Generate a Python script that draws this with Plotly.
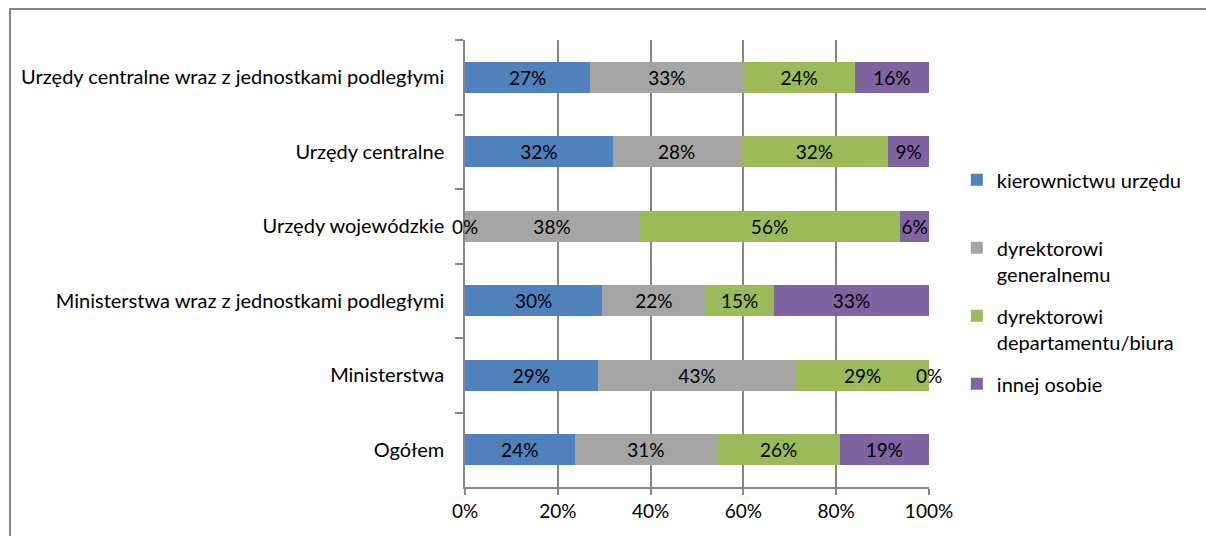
import plotly.graph_objects as go

categories = [
    "Urzędy centralne wraz z jednostkami podległymi",
    "Urzędy centralne",
    "Urzędy wojewódzkie",
    "Ministerstwa wraz z jednostkami podległymi",
    "Ministerstwa",
    "Ogółem",
]
series_names = [
    "kierownictwu urzędu<br>&nbsp;",
    "dyrektorowi<br>generalnemu",
    "dyrektorowi<br>departamentu/biura",
    "innej osobie<br>&nbsp;",
]
kierownictwu = [27.0, 31.8, 0.0, 29.6, 28.6, 23.6]
generalnemu = [33.0, 27.6, 37.5, 22.2, 42.8, 30.8]
departamentu = [24.0, 31.8, 56.25, 14.8, 28.6, 26.4]
innej = [16.0, 8.8, 6.25, 33.4, 0.0, 19.2]
colors = ["#4F81BD", "#A5A5A5", "#9BBB59", "#8064A2"]
x_ticks = [0, 20, 40, 60, 80, 100]
x_tick_labels = ["0%", "20%", "40%", "60%", "80%", "100%"]

FONT = "Lato, 'Open Sans', sans-serif"
all_series = [kierownictwu, generalnemu, departamentu, innej]

fig = go.Figure()
for name, vals, col in zip(series_names, all_series, colors):
    fig.add_trace(go.Bar(
        y=categories, x=vals, name=name, orientation="h",
        marker=dict(color=col, line=dict(width=0)),
        text=vals, texttemplate="%{x:.0f}%", textposition="inside",
        insidetextanchor="middle", constraintext="none", textangle=0,
        textfont=dict(color="black", size=19, family=FONT),
        legendgroup=name,
    ))

# labels for zero-width segments (not drawn by the bar renderer)
base = [0.0] * len(categories)
for vals in all_series:
    for i, (cat, v) in enumerate(zip(categories, vals)):
        if v == 0:
            fig.add_annotation(x=base[i], y=cat, text=f"{v:.0f}%", showarrow=False,
                               xanchor="center", yanchor="middle",
                               font=dict(color="black", size=19, family=FONT))
        base[i] += v

fig.update_layout(
    width=1206, height=536,
    barmode="stack", bargap=0.58,
    margin=dict(l=465, r=277, t=40, b=49),
    paper_bgcolor="white", plot_bgcolor="white",
    font=dict(family=FONT, size=20, color="black"),
    uniformtext=dict(mode="show", minsize=19),
    legend=dict(x=1.06, xanchor="left", y=0.731, yanchor="top",
                font=dict(size=20, family=FONT), traceorder="grouped",
                tracegroupgap=13, valign="top", bgcolor="rgba(0,0,0,0)"),
    showlegend=True,
    xaxis=dict(range=[0, 100], tickvals=x_ticks, ticktext=x_tick_labels,
               tickfont=dict(size=19),
               showgrid=True, gridcolor="#868686", gridwidth=1.5,
               showline=True, linecolor="#868686", linewidth=1.5,
               ticks="outside", ticklen=6, tickcolor="#868686", tickwidth=1.5,
               zeroline=False, fixedrange=True),
    yaxis=dict(autorange="reversed", showline=True, linecolor="#868686", linewidth=1.5,
               ticks="outside", tickson="boundaries", ticklen=8, tickcolor="#868686",
               tickwidth=1.5, showgrid=False, ticklabelstandoff=15,
               tickfont=dict(size=20)),
)
fig.add_shape(type="rect", xref="paper", yref="paper",
              x0=(10 - 465) / 464, x1=(1215 - 465) / 464,
              y0=-0.2, y1=(487 - 9) / 447,
              line=dict(color="#868686", width=2), fillcolor="rgba(0,0,0,0)", layer="below")

fig.write_html("out.html")
